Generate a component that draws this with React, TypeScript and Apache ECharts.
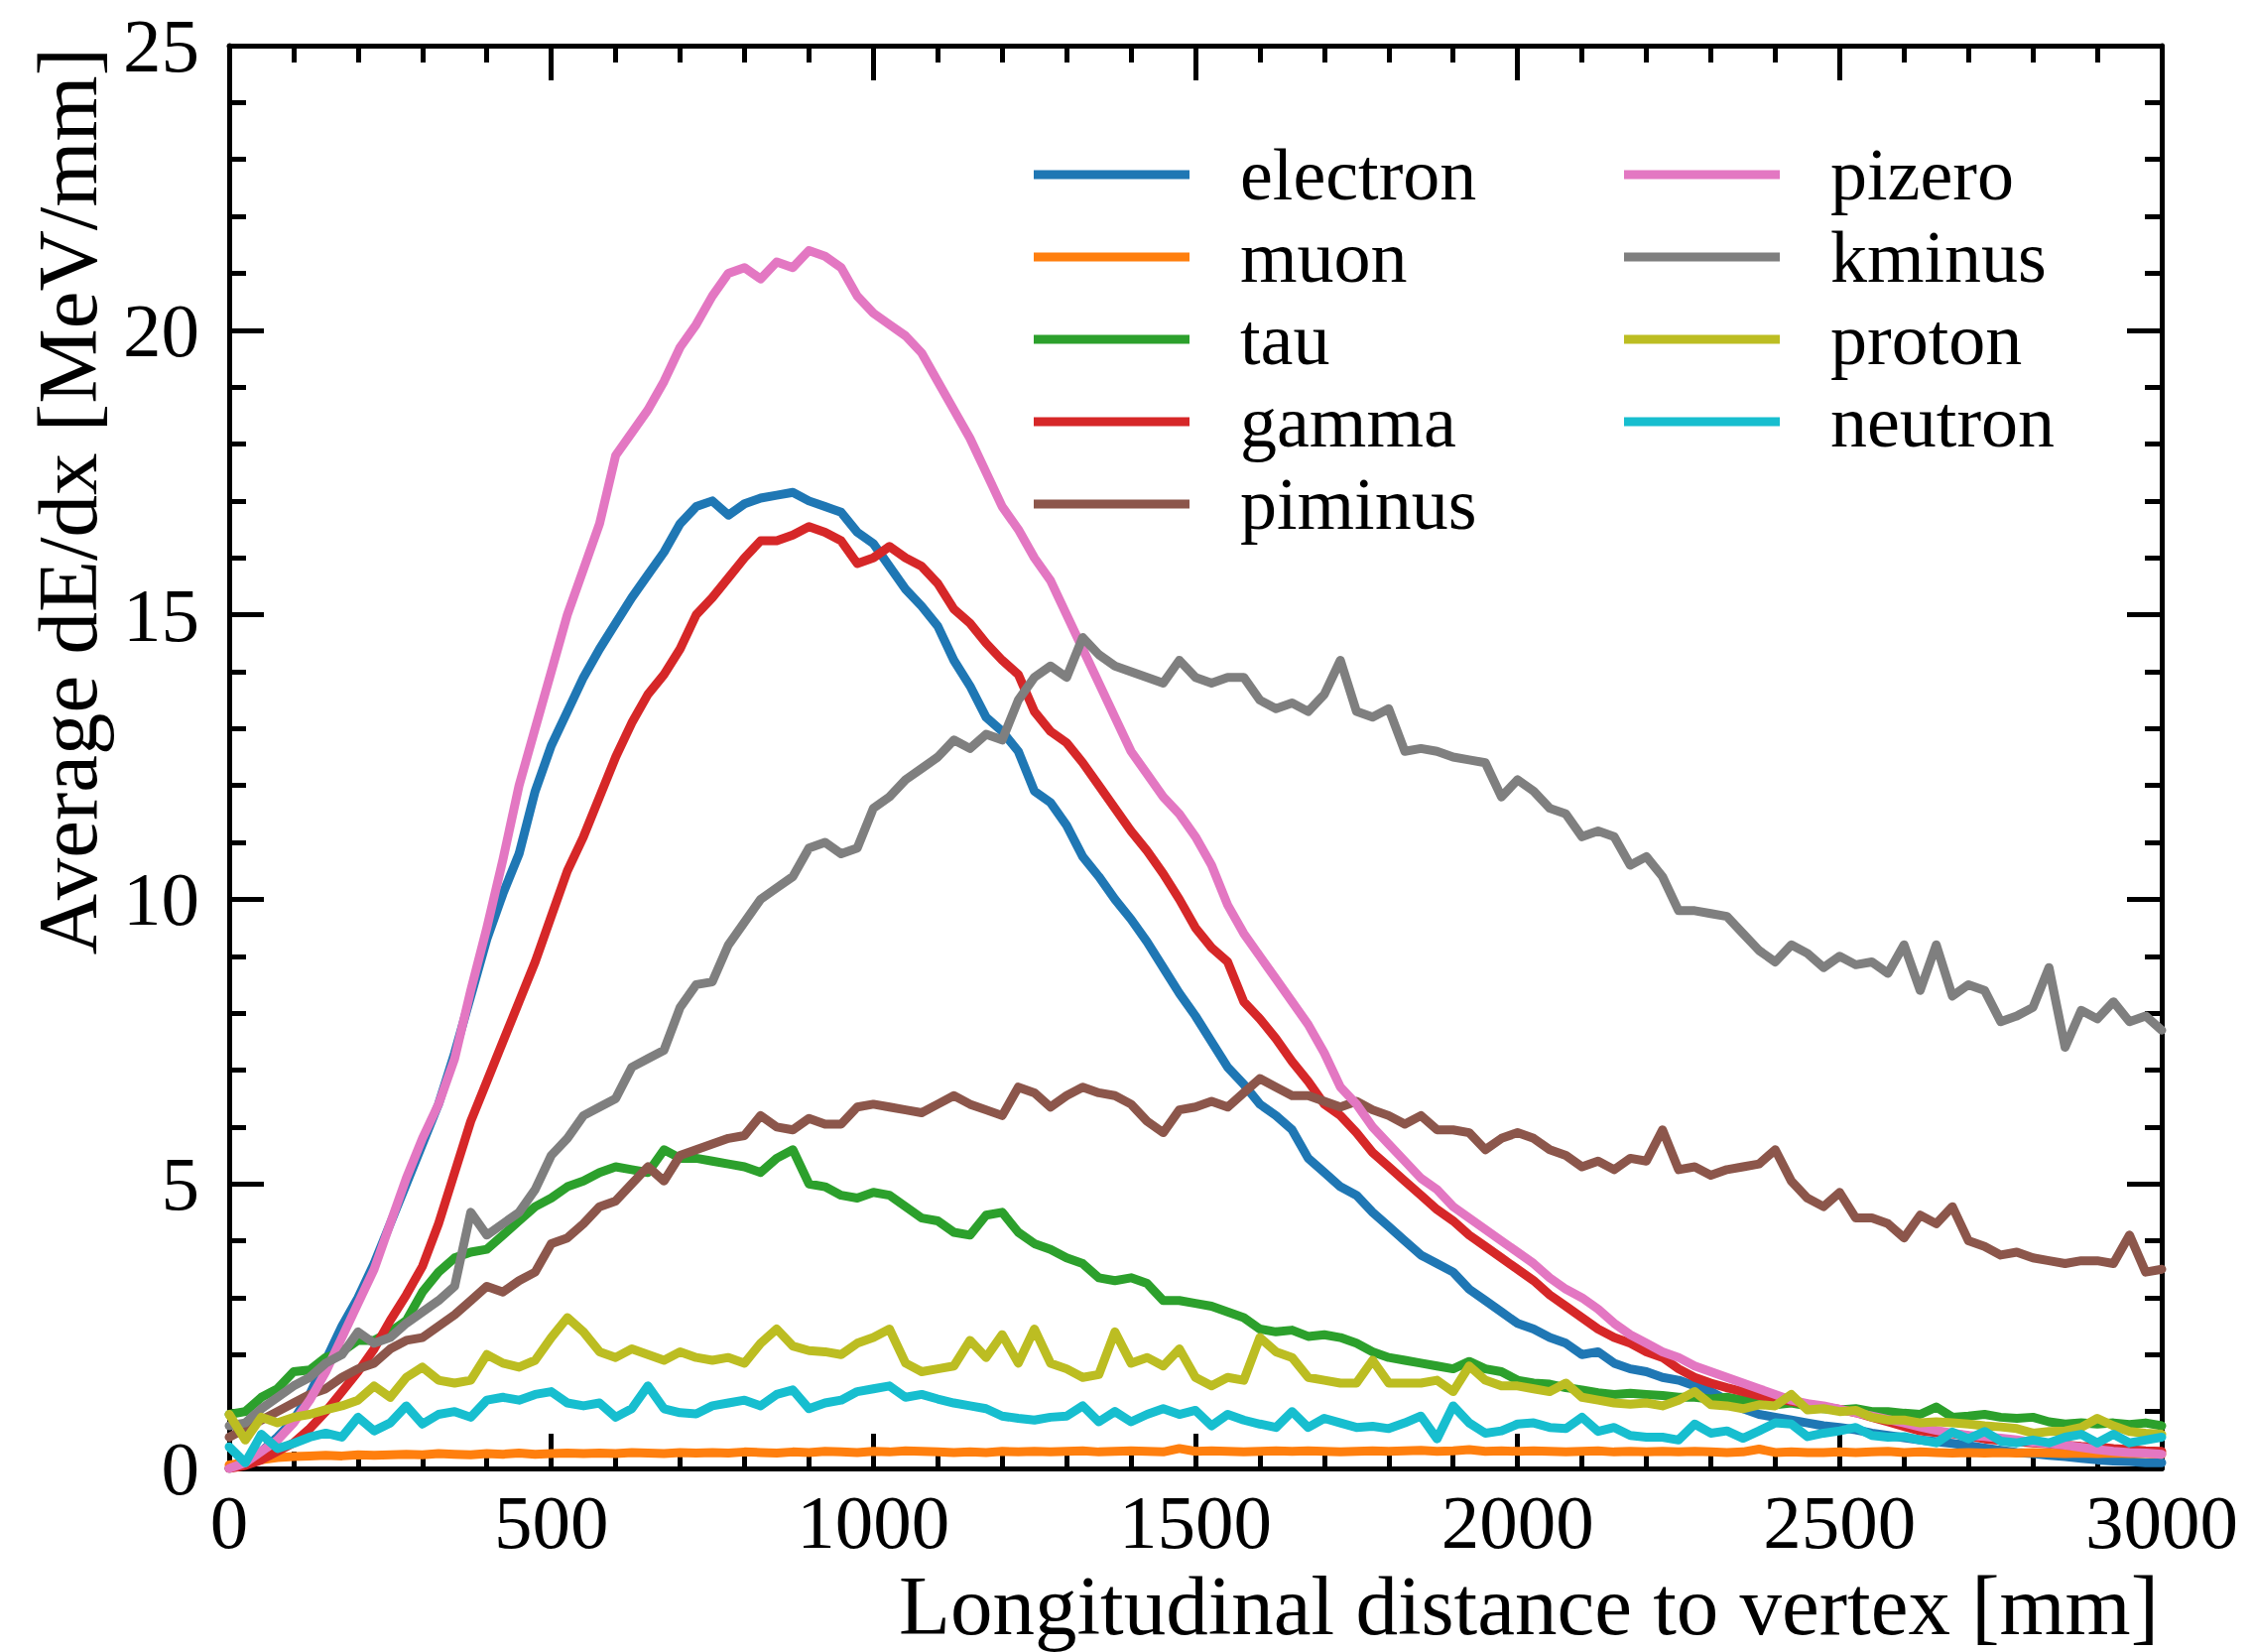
import { useEffect, useRef } from "react";
import * as echarts from "echarts";

const WIDTH = 2271;
const HEIGHT = 1665;
const FONT = '"Liberation Serif", "Times New Roman", serif';

// Sampling grid along the shower axis, in mm (every 25 mm from 0 to 3000)
const distanceMm = Array.from({ length: 121 }, (_, i) => i * 25);

// Average dE/dx [MeV/mm] per particle type, one value per grid point
const electron = [
  0.0, 0.1, 0.3, 0.55, 0.85, 1.3, 1.9, 2.5, 3.0, 3.6,
  4.3, 5.0, 5.7, 6.4, 7.3, 8.3, 9.3, 10.1, 10.8, 11.9,
  12.7, 13.3, 13.9, 14.4, 14.85, 15.3, 15.7, 16.1, 16.6, 16.9,
  17.0, 16.75, 16.95, 17.05, 17.1, 17.15, 17.0, 16.9, 16.8, 16.45,
  16.25, 15.85, 15.45, 15.15, 14.8, 14.2, 13.75, 13.2, 12.95, 12.6,
  11.9, 11.7, 11.3, 10.75, 10.4, 10.0, 9.65, 9.25, 8.8, 8.35,
  7.95, 7.5, 7.05, 6.75, 6.4, 6.2, 5.95, 5.45, 5.2, 4.95,
  4.8, 4.5, 4.25, 4.0, 3.75, 3.6, 3.45, 3.15, 2.95, 2.75,
  2.55, 2.45, 2.3, 2.2, 2.0, 2.05, 1.85, 1.75, 1.7, 1.6,
  1.55, 1.45, 1.35, 1.2, 1.05, 0.95, 0.9, 0.85, 0.8, 0.75,
  0.72, 0.68, 0.62, 0.58, 0.54, 0.5, 0.47, 0.44, 0.4, 0.36,
  0.32, 0.28, 0.26, 0.23, 0.21, 0.18, 0.15, 0.13, 0.12, 0.1,
  0.1,
];

const muon = [
  0.06, 0.1, 0.15, 0.19, 0.21, 0.22, 0.23, 0.22, 0.24, 0.23,
  0.24, 0.25, 0.24, 0.26, 0.25, 0.24, 0.26, 0.25, 0.27, 0.25,
  0.26, 0.27, 0.26, 0.27, 0.26, 0.28, 0.27, 0.26, 0.28, 0.27,
  0.28, 0.27, 0.29, 0.28, 0.27, 0.29, 0.28, 0.3, 0.29, 0.28,
  0.3, 0.29, 0.31, 0.3, 0.29, 0.28, 0.29, 0.28, 0.3, 0.29,
  0.3, 0.29, 0.3, 0.31, 0.29, 0.3, 0.31, 0.3, 0.29, 0.35,
  0.3, 0.31, 0.3, 0.29, 0.3, 0.31, 0.3, 0.31, 0.3, 0.29,
  0.3, 0.31, 0.3, 0.31, 0.32, 0.3, 0.31, 0.33, 0.3, 0.31,
  0.3, 0.31, 0.3, 0.29, 0.3, 0.31, 0.29, 0.3, 0.29, 0.3,
  0.29, 0.3, 0.29, 0.28, 0.29, 0.34, 0.28, 0.29, 0.28, 0.28,
  0.29, 0.28, 0.29, 0.3, 0.28, 0.29, 0.28, 0.27, 0.28, 0.27,
  0.28, 0.27, 0.28, 0.27, 0.26, 0.27, 0.26, 0.27, 0.26, 0.26,
  0.25,
];

const tau = [
  0.95, 1.0, 1.25, 1.4, 1.7, 1.73, 1.95, 2.05, 2.25, 2.25,
  2.4, 2.6, 3.1, 3.45, 3.7, 3.8, 3.85, 4.1, 4.35, 4.6,
  4.75, 4.95, 5.05, 5.2, 5.3, 5.25, 5.2, 5.6, 5.45, 5.45,
  5.4, 5.35, 5.3, 5.2, 5.45, 5.6, 5.0, 4.95, 4.8, 4.75,
  4.85, 4.8, 4.6, 4.4, 4.35, 4.15, 4.1, 4.45, 4.5, 4.15,
  3.95, 3.85, 3.7, 3.6, 3.35, 3.3, 3.35, 3.25, 2.95, 2.95,
  2.9, 2.85, 2.75, 2.65, 2.45, 2.4, 2.43, 2.32, 2.35, 2.3,
  2.2, 2.05, 1.95, 1.9, 1.85, 1.8, 1.75, 1.88, 1.75, 1.7,
  1.55, 1.5, 1.48, 1.42, 1.38, 1.33, 1.3, 1.32, 1.3, 1.28,
  1.25, 1.25, 1.22, 1.25, 1.2, 1.15, 1.12, 1.15, 1.1, 1.05,
  1.03, 1.05, 1.0, 1.0, 0.97, 0.95, 1.08, 0.9, 0.92, 0.95,
  0.9, 0.88, 0.9, 0.82, 0.78, 0.8, 0.78, 0.8, 0.77, 0.8,
  0.75,
];

const gamma = [
  0.0, 0.05, 0.15, 0.3, 0.45, 0.7, 1.0, 1.35, 1.7, 2.1,
  2.6, 3.05, 3.55, 4.3, 5.2, 6.1, 6.8, 7.5, 8.2, 8.9,
  9.7, 10.5, 11.1, 11.8, 12.5, 13.1, 13.6, 13.95, 14.4, 15.0,
  15.3, 15.65, 16.0, 16.3, 16.3, 16.4, 16.55, 16.45, 16.3, 15.9,
  16.0, 16.2, 16.0, 15.85, 15.55, 15.1, 14.85, 14.5, 14.2, 13.95,
  13.3, 12.95, 12.75, 12.4, 12.0, 11.6, 11.2, 10.85, 10.45, 10.0,
  9.5, 9.15, 8.9, 8.2, 7.9, 7.55, 7.15, 6.8, 6.4, 6.2,
  5.9, 5.55, 5.3, 5.05, 4.8, 4.55, 4.35, 4.1, 3.9, 3.7,
  3.5, 3.3, 3.05, 2.85, 2.65, 2.45, 2.3, 2.2, 2.05, 1.95,
  1.75, 1.6, 1.5, 1.42, 1.35, 1.28, 1.23, 1.18, 1.13, 1.08,
  1.04, 0.98, 0.9, 0.82, 0.74, 0.66, 0.63, 0.61, 0.57, 0.52,
  0.49, 0.47, 0.45, 0.43, 0.41, 0.39, 0.38, 0.35, 0.33, 0.31,
  0.3,
];

const piminus = [
  0.55, 0.7, 0.85, 1.0, 1.15, 1.3, 1.4, 1.6, 1.75, 1.85,
  2.1, 2.25, 2.3, 2.5, 2.7, 2.95, 3.2, 3.1, 3.3, 3.45,
  3.95, 4.05, 4.3, 4.6, 4.7, 5.0, 5.3, 5.05, 5.5, 5.6,
  5.7, 5.8, 5.85, 6.2, 6.0, 5.95, 6.15, 6.05, 6.05, 6.35,
  6.4, 6.35, 6.3, 6.25, 6.4, 6.55, 6.4, 6.3, 6.2, 6.7,
  6.6, 6.35, 6.55, 6.7, 6.6, 6.55, 6.4, 6.1, 5.9, 6.3,
  6.35, 6.45, 6.35, 6.6, 6.85, 6.7, 6.55, 6.55, 6.45, 6.35,
  6.45, 6.3, 6.2, 6.05, 6.2, 5.95, 5.95, 5.9, 5.6, 5.8,
  5.9, 5.8, 5.6, 5.5, 5.3, 5.4, 5.25, 5.45, 5.4, 5.95,
  5.25, 5.3, 5.15, 5.25, 5.3, 5.35, 5.6, 5.05, 4.75, 4.6,
  4.85, 4.4, 4.4, 4.3, 4.05, 4.45, 4.3, 4.6, 4.0, 3.9,
  3.75, 3.8, 3.7, 3.65, 3.6, 3.65, 3.65, 3.6, 4.1, 3.45,
  3.5,
];

const pizero = [
  0.0, 0.1, 0.3, 0.5, 0.8, 1.2, 1.7, 2.3, 2.9, 3.5,
  4.3, 5.1, 5.8, 6.4, 7.2, 8.4, 9.5, 10.7, 12.0, 13.0,
  14.0, 15.0, 15.8, 16.6, 17.8, 18.2, 18.6, 19.1, 19.7, 20.1,
  20.6, 21.0, 21.1, 20.9, 21.2, 21.1, 21.4, 21.3, 21.1, 20.6,
  20.3, 20.1, 19.9, 19.6, 19.1, 18.6, 18.1, 17.5, 16.9, 16.5,
  16.0, 15.6, 15.0, 14.4, 13.8, 13.2, 12.6, 12.2, 11.8, 11.5,
  11.1, 10.6, 9.9, 9.4, 9.0, 8.6, 8.2, 7.8, 7.3, 6.7,
  6.4, 6.0, 5.7, 5.4, 5.1, 4.9, 4.6, 4.4, 4.2, 4.0,
  3.8, 3.6, 3.35, 3.15, 3.0, 2.8, 2.55, 2.35, 2.2, 2.05,
  1.95, 1.8, 1.7, 1.6, 1.5, 1.4, 1.3, 1.2, 1.14, 1.1,
  1.04, 0.98, 0.92, 0.86, 0.8, 0.73, 0.67, 0.62, 0.58, 0.56,
  0.53, 0.5, 0.46, 0.44, 0.41, 0.37, 0.33, 0.3, 0.28, 0.27,
  0.25,
];

const kminus = [
  0.75, 0.8, 1.05, 1.25, 1.45, 1.6, 1.85, 2.0, 2.4, 2.2,
  2.3, 2.55, 2.75, 2.95, 3.2, 4.5, 4.1, 4.3, 4.5, 4.9,
  5.5, 5.8, 6.2, 6.35, 6.5, 7.05, 7.2, 7.35, 8.1, 8.5,
  8.55, 9.2, 9.6, 10.0, 10.2, 10.4, 10.9, 11.0, 10.8, 10.9,
  11.6, 11.8, 12.1, 12.3, 12.5, 12.8, 12.65, 12.9, 12.8, 13.5,
  13.9, 14.1, 13.9, 14.6, 14.3, 14.1, 14.0, 13.9, 13.8, 14.2,
  13.9, 13.8, 13.9, 13.9, 13.5, 13.35, 13.45, 13.3, 13.6, 14.2,
  13.3, 13.2, 13.35, 12.6, 12.65, 12.6, 12.5, 12.45, 12.4, 11.8,
  12.1, 11.9, 11.6, 11.5, 11.1, 11.2, 11.1, 10.6, 10.75, 10.4,
  9.8, 9.8, 9.75, 9.7, 9.4, 9.1, 8.9, 9.2, 9.05, 8.8,
  9.0, 8.85, 8.9, 8.7, 9.2, 8.4, 9.2, 8.3, 8.5, 8.4,
  7.85, 7.95, 8.1, 8.8, 7.4, 8.05, 7.9, 8.2, 7.85, 7.95,
  7.7,
];

const proton = [
  0.95, 0.5, 0.9, 0.8, 0.9, 0.95, 1.03, 1.1, 1.2, 1.45,
  1.25, 1.6, 1.78, 1.55, 1.5, 1.55, 2.0, 1.85, 1.78, 1.9,
  2.3, 2.65, 2.4, 2.05, 1.95, 2.1, 2.0, 1.9, 2.05, 1.95,
  1.9, 1.95, 1.85, 2.2, 2.45, 2.15, 2.07, 2.05, 2.0, 2.2,
  2.3, 2.45, 1.85, 1.7, 1.75, 1.8, 2.25, 1.95, 2.35, 1.85,
  2.45, 1.85, 1.75, 1.6, 1.65, 2.4, 1.85, 1.95, 1.8, 2.1,
  1.6, 1.45, 1.6, 1.55, 2.3, 2.05, 1.95, 1.6, 1.55, 1.5,
  1.5, 1.9, 1.5, 1.5, 1.5, 1.55, 1.35, 1.8, 1.55, 1.45,
  1.45, 1.4, 1.35, 1.5, 1.25, 1.2, 1.15, 1.13, 1.15, 1.1,
  1.2, 1.35, 1.12, 1.1, 1.05, 1.12, 1.1, 1.3, 1.03, 1.05,
  1.0, 1.02, 0.9, 0.85, 0.85, 0.8, 0.82, 0.8, 0.78, 0.75,
  0.73, 0.7, 0.62, 0.65, 0.66, 0.72, 0.88, 0.75, 0.65, 0.62,
  0.6,
];

const neutron = [
  0.38, 0.1, 0.6, 0.35, 0.44, 0.55, 0.62, 0.55, 0.9, 0.66,
  0.8, 1.1, 0.78, 0.95, 1.0, 0.9, 1.2, 1.25, 1.2, 1.3,
  1.35, 1.15, 1.1, 1.15, 0.9, 1.05, 1.45, 1.05, 0.98, 0.96,
  1.1, 1.15, 1.2, 1.1, 1.3, 1.38, 1.05, 1.15, 1.2, 1.35,
  1.4, 1.45, 1.25, 1.3, 1.22, 1.15, 1.1, 1.05, 0.92, 0.88,
  0.85, 0.9, 0.92, 1.1, 0.82, 1.0, 0.82, 0.95, 1.05, 0.95,
  1.02, 0.75, 0.95, 0.85, 0.78, 0.72, 1.0, 0.72, 0.88, 0.8,
  0.72, 0.74, 0.7, 0.8, 0.92, 0.52, 1.1, 0.8, 0.62, 0.66,
  0.78, 0.8, 0.72, 0.7, 0.9, 0.65, 0.72, 0.58, 0.55, 0.55,
  0.5, 0.78, 0.62, 0.66, 0.53, 0.66, 0.8, 0.78, 0.56, 0.62,
  0.66, 0.72, 0.58, 0.55, 0.56, 0.5, 0.45, 0.64, 0.52, 0.65,
  0.48, 0.45, 0.5, 0.45, 0.55, 0.6, 0.45, 0.6, 0.45, 0.5,
  0.55,
];

const particleNames = [
  "electron", "muon", "tau", "gamma", "piminus",
  "pizero", "kminus", "proton", "neutron",
];
const particleValues = [
  electron, muon, tau, gamma, piminus,
  pizero, kminus, proton, neutron,
];
const particleColors = [
  "#1f77b4", "#ff7f0e", "#2ca02c", "#d62728", "#8c564b",
  "#e377c2", "#7f7f7f", "#bcbd22", "#17becf",
];

const xTitle = "Longitudinal distance to vertex [mm]";
const yTitle = "Average dE/dx [MeV/mm]";

function frameAxis(position: string, showLabels: boolean, min: number, max: number, interval: number) {
  return {
    type: "value",
    position,
    min,
    max,
    interval,
    axisLine: { show: true, onZero: false, lineStyle: { color: "#000", width: 5 } },
    axisTick: { show: true, inside: true, length: 35, lineStyle: { color: "#000", width: 5 } },
    minorTick: { show: true, splitNumber: 5, length: 17, lineStyle: { color: "#000", width: 5 } },
    splitLine: { show: false },
    minorSplitLine: { show: false },
    axisLabel: {
      show: showLabels,
      fontSize: 77,
      fontFamily: FONT,
      color: "#000",
      margin: position === "bottom" ? 15 : 30,
      formatter: (v: number) => String(v),
    },
  };
}

function legendColumn(names: string[], left: number) {
  return {
    data: names,
    orient: "vertical",
    left,
    top: 139,
    padding: 0,
    icon: "rect",
    itemWidth: 157,
    itemHeight: 9,
    itemGap: 9,
    selectedMode: false,
    textStyle: {
      fontSize: 74,
      fontFamily: FONT,
      color: "#000",
      lineHeight: 74,
      padding: [0, 0, 0, 46],
    },
  };
}

export default function App() {
  const ref = useRef<HTMLDivElement>(null);

  useEffect(() => {
    if (!ref.current) return;
    const chart = echarts.init(ref.current, null, { renderer: "svg", width: WIDTH, height: HEIGHT });

    const series = particleNames.map((name, k) => ({
      name,
      type: "line",
      xAxisIndex: 0,
      yAxisIndex: 0,
      data: distanceMm.map((d, i) => [d, particleValues[k][i]]),
      showSymbol: false,
      symbol: "none",
      color: particleColors[k],
      lineStyle: { width: 9, color: particleColors[k], join: "round", cap: "round" },
      emphasis: { disabled: true },
      z: 2 + k,
    }));

    chart.setOption({
      animation: false,
      backgroundColor: "#fff",
      color: particleColors,
      grid: { left: 231, top: 46, width: 1948, height: 1434, containLabel: false },
      xAxis: [frameAxis("bottom", true, 0, 3000, 500), frameAxis("top", false, 0, 3000, 500)],
      yAxis: [frameAxis("left", true, 0, 25, 5), frameAxis("right", false, 0, 25, 5)],
      legend: [
        legendColumn(particleNames.slice(0, 5), 1042),
        legendColumn(particleNames.slice(5), 1637),
      ],
      series,
      graphic: [
        {
          type: "text",
          x: 2176,
          y: 1618,
          style: {
            text: xTitle,
            fontSize: 85,
            fontFamily: FONT,
            fill: "#000",
            align: "right",
            verticalAlign: "middle",
          },
        },
        {
          type: "text",
          x: 68,
          y: 48,
          rotation: Math.PI / 2,
          style: {
            text: yTitle,
            fontSize: 85,
            fontFamily: FONT,
            fill: "#000",
            align: "right",
            verticalAlign: "middle",
          },
        },
      ],
    });

    return () => chart.dispose();
  }, []);

  return (
    <div
      ref={ref}
      style={{ position: "absolute", left: 0, top: 0, width: WIDTH, height: HEIGHT, background: "#fff" }}
    />
  );
}
